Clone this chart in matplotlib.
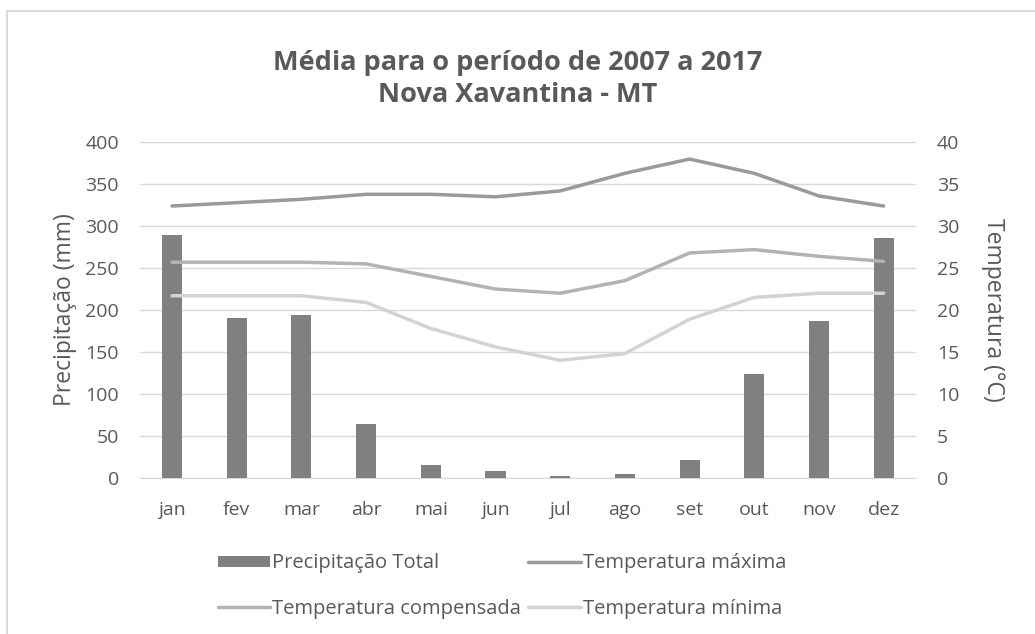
import matplotlib
matplotlib.use("Agg")
import matplotlib.pyplot as plt
from matplotlib.patches import Rectangle
import numpy as np

plt.rcParams['font.family'] = ['Open Sans', 'DejaVu Sans']

months = ['jan', 'fev', 'mar', 'abr', 'mai', 'jun', 'jul', 'ago', 'set', 'out', 'nov', 'dez']
precip = [290, 191, 194, 64, 15.5, 8, 1.5, 5, 21.5, 124, 186.5, 286]
t_max = [32.4, 32.8, 33.2, 33.8, 33.8, 33.5, 34.2, 36.3, 38.0, 36.3, 33.6, 32.4]
t_comp = [25.7, 25.7, 25.7, 25.5, 24.0, 22.5, 22.0, 23.5, 26.8, 27.2, 26.4, 25.8]
t_min = [21.7, 21.7, 21.7, 20.9, 17.8, 15.6, 14.0, 14.8, 18.9, 21.5, 22.0, 22.0]

title = "Média para o período de 2007 a 2017\nNova Xavantina - MT"

txt = '#595959'
grid = '#d9d9d9'
c_bar = '#808080'
c_max = '#9a9a9a'
c_comp = '#b3b3b3'
c_min = '#d3d3d3'

W, H = 1035, 634
fig = plt.figure(figsize=(W / 100, H / 100), dpi=100)
fig.patch.set_facecolor('white')

# chart border (top and left visible)
fig.add_artist(Rectangle((7 / W, -0.1), 1.2, (H - 11) / H + 0.1, transform=fig.transFigure,
                         fill=False, edgecolor='#d9d9d9', linewidth=1.5))

ax = fig.add_axes([139.7 / W, (H - 477.7) / H, (916 - 139.7) / W, (477.7 - 142.3) / H])
ax2 = ax.twinx()

x = np.arange(len(months))
b = ax.bar(x, precip, width=0.31, color=c_bar, zorder=3, label='Precipitação Total')
ax.set_ylim(0, 400)
ax.set_xlim(-0.5, 11.5)
ax.set_yticks(np.arange(0, 401, 50))
ax.set_xticks(x)
ax.set_xticklabels(months)
ax.grid(axis='y', color=grid, linewidth=1, zorder=0)
ax.set_axisbelow(True)

l1, = ax2.plot(x, t_max, color=c_max, lw=2.5, solid_capstyle='round', label='Temperatura máxima')
l2, = ax2.plot(x, t_comp, color=c_comp, lw=2.5, solid_capstyle='round', label='Temperatura compensada')
l3, = ax2.plot(x, t_min, color=c_min, lw=2.5, solid_capstyle='round', label='Temperatura mínima')
ax2.set_ylim(0, 40)
ax2.set_yticks(np.arange(0, 41, 5))

for a in (ax, ax2):
    for s in a.spines.values():
        s.set_visible(False)
    a.tick_params(length=0, colors=txt, labelsize=14, pad=15)
ax.tick_params(axis='x', pad=17)
ax.spines['bottom'].set_visible(True)
ax.spines['bottom'].set_color(grid)

ax.set_ylabel('Precipitação (mm)', color=txt, fontsize=16.5, labelpad=6)
ax2.set_ylabel('Temperatura (°C)', color=txt, fontsize=16.5, rotation=-90, labelpad=33)

fig.text(0.5, (H - 79.5) / H, title, ha='center', va='center', fontsize=19.5, fontweight='bold',
         color=txt, linespacing=1.3)

leg = fig.legend([b, l2, l1, l3],
                 ['Precipitação Total', 'Temperatura compensada', 'Temperatura máxima', 'Temperatura mínima'],
                 loc='center', bbox_to_anchor=(502 / W, (H - 586) / H), ncol=2, frameon=False,
                 fontsize=14.5, handlelength=2.6, handletextpad=0.12, columnspacing=0.35,
                 labelspacing=1.25, labelcolor=txt, handleheight=0.5)

fig.savefig('out.png', dpi=100, facecolor='white')
